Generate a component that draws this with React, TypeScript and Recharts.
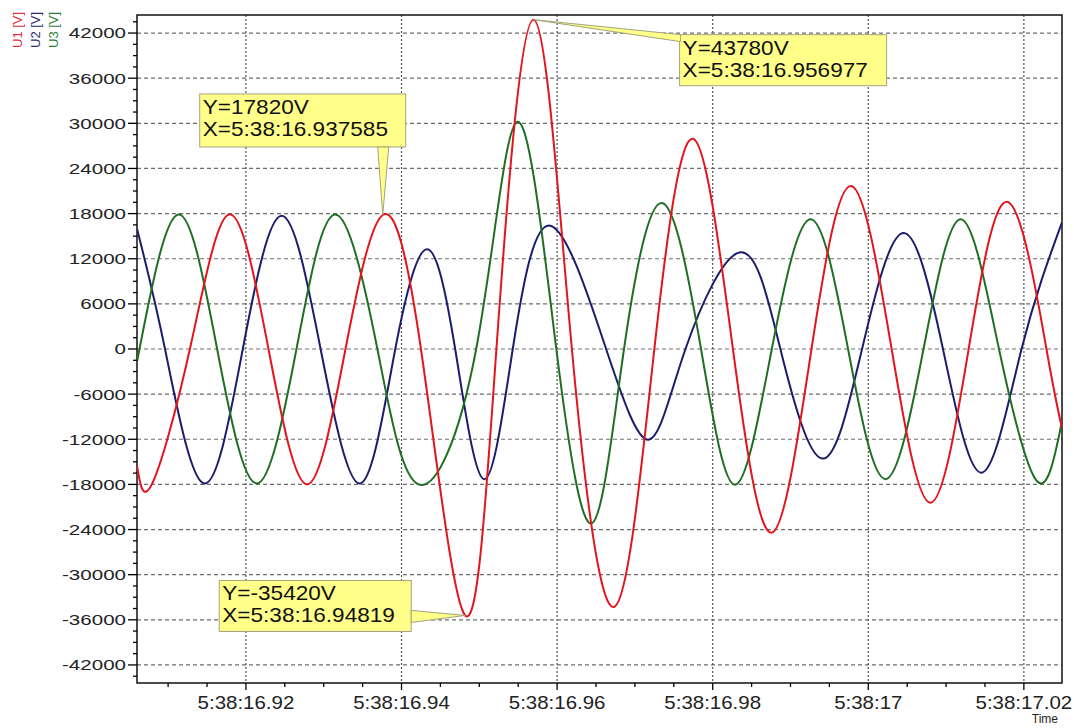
import React from 'react'
import { LineChart, Line, XAxis, YAxis, CartesianGrid, ReferenceArea, ReferenceDot } from 'recharts'

// time = seconds past 5:38, values in volts (peaks, troughs and zero crossings)
const u1Time = [16.906, 16.9079, 16.9128, 16.9179, 16.9229, 16.9279, 16.9328, 16.937585, 16.9425, 16.94819, 16.9522, 16.956977, 16.9619, 16.9674, 16.9725, 16.9775, 16.9826, 16.9876, 16.9927, 16.9978, 17.003, 17.008, 17.0129, 17.018, 17.0229, 17.0249]
const u1Volt = [-15500, -18000, 0, 17900, 0, -18000, 0, 17820, 0, -35420, 0, 43780, 0, -34250, 0, 27940, 0, -24410, 0, 21680, 0, -20430, 0, 19520, 0, -10500]

const u2Time = [16.906, 16.9096, 16.9146, 16.9196, 16.9246, 16.9296, 16.9347, 16.9392, 16.9433, 16.9469, 16.9506, 16.9543, 16.9591, 16.9663, 16.9718, 16.9765, 16.9836, 16.9887, 16.9941, 16.9992, 17.0045, 17.0096, 17.0146, 17.0197, 17.0249]
const u2Volt = [16000, 0, -17870, 0, 17700, 0, -17870, 0, 13260, 0, -17300, 0, 16390, 0, -12060, 0, 12860, 0, -14570, 0, 15420, 0, -16440, 0, 16840]

const u3Time = [16.906, 16.9113, 16.9163, 16.9214, 16.9265, 16.9315, 16.9369, 16.9422, 16.9496, 16.9549, 16.9599, 16.9645, 16.9686, 16.9735, 16.9785, 16.9829, 16.9876, 16.9926, 16.9974, 17.0022, 17.0071, 17.0119, 17.0168, 17.0217, 17.0249]
const u3Volt = [-1700, 17870, 0, -17870, 0, 17870, 0, -18000, 0, 30200, 0, -23160, 0, 19400, 0, -18040, 0, 17240, 0, -17300, 0, 17240, 0, -17580, -9600]

const xMajor = [16.92, 16.94, 16.96, 16.98, 17, 17.02]
const xTicks = [16.91, 16.915, 16.92, 16.925, 16.93, 16.935, 16.94, 16.945, 16.95, 16.955, 16.96, 16.965, 16.97, 16.975, 16.98, 16.985, 16.99, 16.995, 17, 17.005, 17.01, 17.015, 17.02]
const yMajor = [-42000, -36000, -30000, -24000, -18000, -12000, -6000, 0, 6000, 12000, 18000, 24000, 30000, 36000, 42000]

const markers = [
  { t: 16.937585, v: 17820, label: ['Y=17820V', 'X=5:38:16.937585'] },
  { t: 16.956977, v: 43780, label: ['Y=43780V', 'X=5:38:16.956977'] },
  { t: 16.94819, v: -35420, label: ['Y=-35420V', 'X=5:38:16.94819'] },
]

const X_DOMAIN = [16.906, 17.0249]
const Y_DOMAIN = [-44400, 44400]
const FONT = 'Liberation Sans, Arial, Helvetica, sans-serif'

// minor ticks every 1500 V between the labelled ones
const yTicks: number[] = []
for (let v = -43500; v <= 43500; v += 1500) yTicks.push(v)

const toPoints = (ts: number[], vs: number[]) => ts.map((t, i) => ({ t, v: vs[i] }))
const u1 = toPoints(u1Time, u1Volt)
const u2 = toPoints(u2Time, u2Volt)
const u3 = toPoints(u3Time, u3Volt)

const RED = '#e4141c'
const BLUE = '#1c1c6e'
const GREEN = '#1f6e24'

function YTick(props: any) {
  const { x, y, payload } = props
  const v = payload.value
  const major = v % 6000 === 0
  const ax = x + 11
  return (
    <g>
      <line x1={ax - (major ? 9 : 4)} x2={ax} y1={y} y2={y} stroke="#000" strokeWidth={1.3} />
      {major && (
        <text transform={`translate(${x},${y}) scale(1.37,1)`} textAnchor="end" dy="0.36em"
          fontSize={15} fontFamily={FONT} fill="#222">{v}</text>
      )}
    </g>
  )
}

function fmtTime(v: number) {
  return '5:38:' + String(Number(v.toFixed(3)))
}

function XTick(props: any) {
  const { x, y, payload } = props
  const v = payload.value
  const major = xMajor.some((m) => Math.abs(m - v) < 1e-6)
  const ay = y - 10
  return (
    <g>
      <line x1={x} x2={x} y1={ay} y2={ay + (major ? 7 : 4)} stroke="#000" strokeWidth={1.3} />
      {major && (
        <text transform={`translate(${x},${y + 16}) scale(1.17,1)`} textAnchor="middle"
          fontSize={17.5} fontFamily={FONT} fill="#222">{fmtTime(v)}</text>
      )}
    </g>
  )
}

// yellow callout boxes, placed relative to the marked point
const boxes = [
  { left: -183, top: -121, w: 206, h: 53, tail: [[-5, -68], [6, -68]] },
  { left: 146, top: 15, w: 207, h: 51, tail: [[147, 15], [147, 22]] },
  { left: -246, top: -35, w: 192, h: 51, tail: [[-54, -5], [-54, 7]] },
]

function Callout(props: any, i: number) {
  const { cx, cy } = props
  const b = boxes[i]
  const m = markers[i]
  const bx = cx + b.left
  const by = cy + b.top
  const tail = `${cx},${cy} ${cx + b.tail[0][0]},${cy + b.tail[0][1]} ${cx + b.tail[1][0]},${cy + b.tail[1][1]}`
  return (
    <g>
      <rect x={bx} y={by} width={b.w} height={b.h} fill="#ffff8a" stroke="#a4a47c" strokeWidth={1} />
      <polygon points={tail} fill="#ffff8a" stroke="#a4a47c" strokeWidth={1} />
      {m.label.map((s, k) => (
        <text key={k} transform={`translate(${bx + 3},${by + 20 + k * 22}) scale(1.13,1)`}
          fontSize={20} fontFamily={FONT} fill="#111">{s}</text>
      ))}
    </g>
  )
}

export default function App() {
  return (
    <div style={{ position: 'absolute', left: 0, top: 0, width: 1074, height: 728, background: '#fff' }}>
      <LineChart width={1074} height={728} margin={{ top: 15, right: 12, bottom: 5, left: 9 }}>
        <CartesianGrid vertical={false} horizontalValues={yMajor} stroke="#6e6e6e" strokeDasharray="4 3" strokeWidth={1.2} />
        <CartesianGrid horizontal={false} verticalValues={xMajor} stroke="#555" strokeDasharray="2 2" strokeWidth={1.2} />
        <XAxis type="number" dataKey="t" domain={X_DOMAIN} allowDataOverflow ticks={xTicks} interval={0}
          tickSize={7} tickMargin={3} tickLine={false} axisLine={false} tick={<XTick />} height={40} />
        <YAxis type="number" dataKey="v" domain={Y_DOMAIN} allowDataOverflow ticks={yTicks} interval={0}
          tickSize={9} tickMargin={2} tickLine={false} axisLine={false} tick={<YTick />} width={128} />
        <Line data={u2} dataKey="v" type="natural" stroke={BLUE} strokeWidth={2} dot={false} isAnimationActive={false} />
        <Line data={u3} dataKey="v" type="natural" stroke={GREEN} strokeWidth={2} dot={false} isAnimationActive={false} />
        <Line data={u1} dataKey="v" type="natural" stroke={RED} strokeWidth={2} dot={false} isAnimationActive={false} />
        <ReferenceArea x1={X_DOMAIN[0]} x2={X_DOMAIN[1]} y1={Y_DOMAIN[0]} y2={Y_DOMAIN[1]}
          fill="none" stroke="#111" strokeWidth={1.5} ifOverflow="visible" />
        {markers.map((m, i) => (
          <ReferenceDot key={i} x={m.t} y={m.v} r={0} ifOverflow="visible" shape={(p: any) => Callout(p, i)} />
        ))}
      </LineChart>
      <svg width={1074} height={728} style={{ position: 'absolute', left: 0, top: 0, pointerEvents: 'none' }}>
        <text transform="translate(21.5,48) rotate(-90)" fontSize={13} fontFamily={FONT} fill="#d8323c">U1 [V]</text>
        <text transform="translate(39.5,48) rotate(-90)" fontSize={13} fontFamily={FONT} fill="#2c2c74">U2 [V]</text>
        <text transform="translate(57.5,48) rotate(-90)" fontSize={13} fontFamily={FONT} fill="#2e7d3c">U3 [V]</text>
        <text x={1058} y={723} textAnchor="end" fontSize={12} fontFamily={FONT} fill="#222">Time</text>
      </svg>
    </div>
  )
}
